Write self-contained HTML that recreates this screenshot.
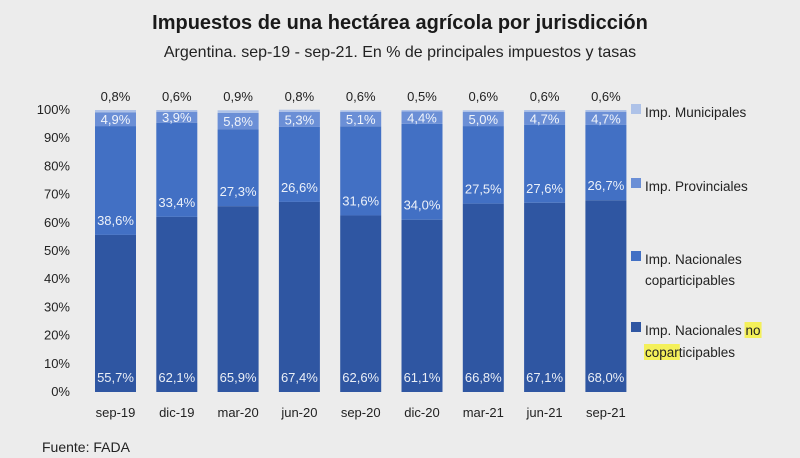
<!DOCTYPE html>
<html><head><meta charset="utf-8"><style>
body{margin:0;background:#ececec;font-family:"Liberation Sans",sans-serif;}
svg{display:block}
</style></head><body>
<svg width="800" height="458" xmlns="http://www.w3.org/2000/svg">
<rect width="800" height="458" fill="#ececec"/>
<text x="400" y="29" text-anchor="middle" font-size="20" font-weight="bold" fill="#1a1a1a">Impuestos de una hectárea agrícola por jurisdicción</text>
<text x="400" y="57" text-anchor="middle" font-size="16" fill="#222">Argentina. sep-19 - sep-21. En % de principales impuestos y tasas</text>
<g id="yaxis"></g>
<g id="bars"></g>
<g id="legend"></g>
<text x="42" y="452" font-size="14" fill="#222">Fuente: FADA</text>
</svg>
<script>
const categories=["sep-19","dic-19","mar-20","jun-20","sep-20","dic-20","mar-21","jun-21","sep-21"];
const nacNoCopart=[55.7,62.1,65.9,67.4,62.6,61.1,66.8,67.1,68.0];
const nacCopart=[38.6,33.4,27.3,26.6,31.6,34.0,27.5,27.6,26.7];
const provinciales=[4.9,3.9,5.8,5.3,5.1,4.4,5.0,4.7,4.7];
const municipales=[0.8,0.6,0.9,0.8,0.6,0.5,0.6,0.6,0.6];
const yTicks=[0,10,20,30,40,50,60,70,80,90,100];
const NS="http://www.w3.org/2000/svg";
const y0=392,y100=110;
const yScale=v=>y0-(y0-y100)*v/100;
const xScale=i=>115.5+i*61.3;
const bw=41;
function mk(tag,attrs,parent,txt){const e=document.createElementNS(NS,tag);for(const k in attrs)e.setAttribute(k,attrs[k]);if(txt!==undefined)e.textContent=txt;parent.appendChild(e);return e;}
const fmt=v=>v.toFixed(1).replace('.',',')+'%';
const yg=document.getElementById('yaxis');
yTicks.forEach(t=>{const e=mk('text',{x:70,y:yScale(t)+4,'text-anchor':'end','font-size':13,fill:'#222'},yg,t+'%');

});
const bg=document.getElementById('bars');
const colors=["#2f56a2","#4270c4","#6b8fd6","#aec2e8"];
const series=[nacNoCopart,nacCopart,provinciales,municipales];
const segNames=["bar-nac-no-copart","bar-nac-copart","bar-provinciales","bar-municipales"];
categories.forEach((c,i)=>{
 let cum=0;const cx=xScale(i);
 series.forEach((s,k)=>{
  const v=s[i];const yb=yScale(cum),yt=yScale(cum+v);
  const r=mk('rect',{x:cx-bw/2,y:yt,width:bw,height:Math.max(0,yb-yt),fill:colors[k]},bg);
  
  
  let ty,fill='#fff';
  if(k===3){ty=yScale(100)-9;fill='#222';}
  else if(k===2){ty=(yb+yt)/2+5;}
  else ty=yb-10;
  const t=mk('text',{x:cx,y:ty,'text-anchor':'middle','font-size':13,fill:fill,opacity:k===3?1:0.9},bg,fmt(v));
  
  
  cum+=v;
 });
 const xl=mk('text',{x:cx,y:417,'text-anchor':'middle','font-size':13,fill:'#222'},bg,c);
 
 
});
const lg=document.getElementById('legend');
const legY=[[113],[187],[260,281],[331,353]];
const legColors=["#aec2e8","#6b8fd6","#4270c4","#2f56a2"];
const legLines=[["Imp. Municipales"],["Imp. Provinciales"],["Imp. Nacionales","coparticipables"],["Imp. Nacionales no","coparticipables"]];
const hlLayer=mk('g',{},lg);
legLines.forEach((lines,k)=>{
 const sq=mk('rect',{x:631,y:legY[k][0]-9,width:10,height:10,fill:legColors[k]},lg);
 
 
 lines.forEach((ln,j)=>{
  const t=mk('text',{x:645,y:legY[k][j]+4,'font-size':13.5,fill:'#222'},lg,ln);
  
  
  if(k===3){
   let s,n;
   if(j===0){s=ln.length-2;n=2;}else{s=0;n=5;}
   const x1=t.getStartPositionOfChar(s).x;
   const x2=t.getEndPositionOfChar(s+n-1).x;
   mk('rect',{x:x1-1,y:legY[k][j]-9,width:x2-x1+2,height:16,fill:'#f4f05a'},hlLayer);
  }
 });
});
</script>
</body></html>
